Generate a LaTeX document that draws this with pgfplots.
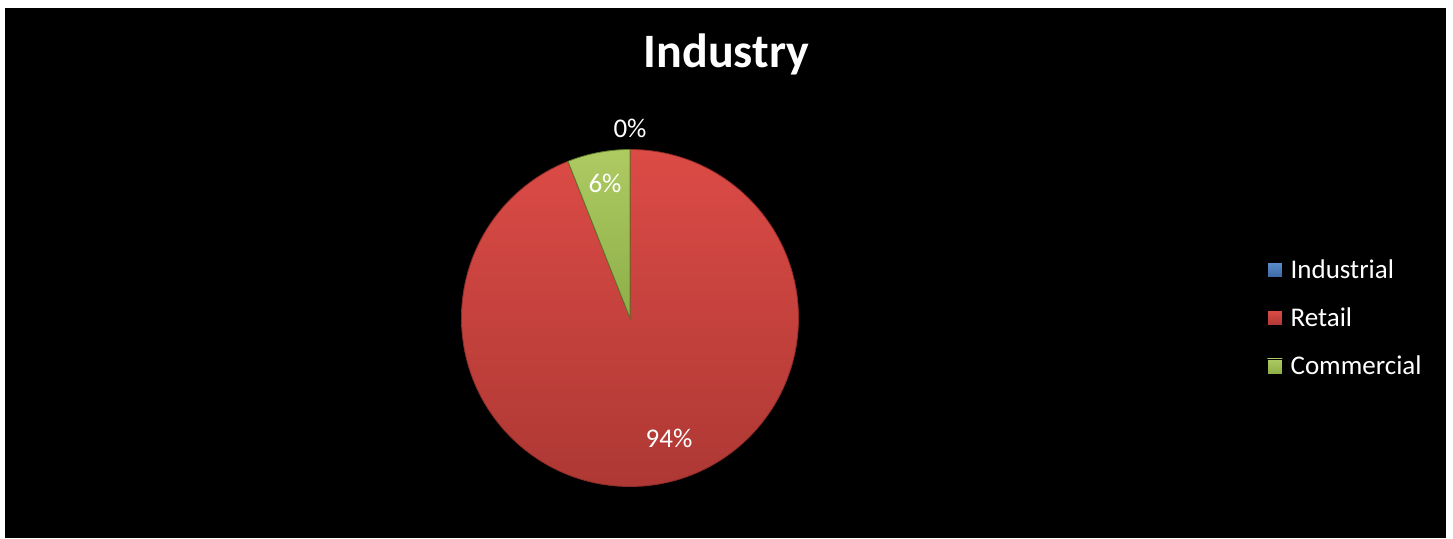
\documentclass[border=0pt]{standalone}
\usepackage{pgfplots}
\pgfplotsset{compat=1.18}
\usepackage{pgfplotstable}
\usepackage{fontspec}
\setmainfont{Carlito}
\definecolor{redtop}{HTML}{DC4B46}
\definecolor{redbot}{HTML}{AE3834}
\definecolor{rededge}{HTML}{8E2C28}
\definecolor{greentop}{HTML}{AECB62}
\definecolor{greenbot}{HTML}{8DAE48}
\definecolor{greenedge}{HTML}{5E7A2A}
\definecolor{bluetop}{HTML}{5B8DCB}
\definecolor{bluebot}{HTML}{3C69A6}

\pgfplotstableread{
name value
Industrial 0
Retail 94
Commercial 6
}\piedata

\begin{document}
\begin{tikzpicture}
\pgfplotstablegetelem{0}{value}\of\piedata \let\vA\pgfplotsretval
\pgfplotstablegetelem{1}{value}\of\piedata \let\vB\pgfplotsretval
\pgfplotstablegetelem{2}{value}\of\piedata \let\vC\pgfplotsretval
\pgfmathsetmacro{\aZero}{90}
\pgfmathsetmacro{\aOne}{\aZero-3.6*\vA}
\pgfmathsetmacro{\aTwo}{\aOne-3.6*\vB}
\pgfmathsetmacro{\aThree}{\aTwo-3.6*\vC}
\begin{axis}[
  width=1453pt, height=538pt, scale only axis,
  xmin=0, xmax=1453, ymin=0, ymax=538,
  hide axis, clip=false,
  legend style={at={(axis cs:1267,220)}, anchor=west, draw=none, fill=none,
    text=white, font=\fontsize{27}{32}\selectfont, row sep=24pt,
    inner sep=0pt},
  legend cell align=left,
]
\fill[white] (axis cs:0,0) rectangle (axis cs:1453,538);
\fill[black] (axis cs:5,0) rectangle (axis cs:1446,530);

% Retail
\fill[top color=redtop, bottom color=redbot, draw=rededge, line width=0.8pt]
  (axis cs:630,220) -- ++(\aOne:168.5pt) arc[start angle=\aOne, end angle=\aTwo, radius=168.5pt] -- cycle;
% Commercial
\fill[top color=greentop, bottom color=greenbot, draw=greenedge, line width=0.8pt]
  (axis cs:630,220) -- ++(\aTwo:168.5pt) arc[start angle=\aTwo, end angle=\aThree, radius=168.5pt] -- cycle;

\node[white, anchor=base, font=\bfseries\fontsize{48}{54}\selectfont] at (axis cs:726.5,470) {Industry};
\node[white, font=\fontsize{27}{30}\selectfont] at (axis cs:630,410) {0\%};
\node[white, font=\fontsize{27}{30}\selectfont] at (axis cs:605,355) {6\%};
\node[white, font=\fontsize{27}{30}\selectfont] at (axis cs:669,100) {94\%};

\addlegendimage{legend image code/.code={\shade[top color=bluetop, bottom color=bluebot] (0pt,-7.5pt) rectangle (15pt,7.5pt); \path (21pt,0pt);}}
\addlegendentry{Industrial}
\addlegendimage{legend image code/.code={\shade[top color=redtop, bottom color=redbot] (0pt,-7.5pt) rectangle (15pt,7.5pt); \path (21pt,0pt);}}
\addlegendentry{Retail}
\addlegendimage{legend image code/.code={\shade[top color=greentop, bottom color=greenbot] (0pt,-7.5pt) rectangle (15pt,7.5pt); \path (21pt,0pt);}}
\addlegendentry{Commercial}
\end{axis}
\end{tikzpicture}
\end{document}
